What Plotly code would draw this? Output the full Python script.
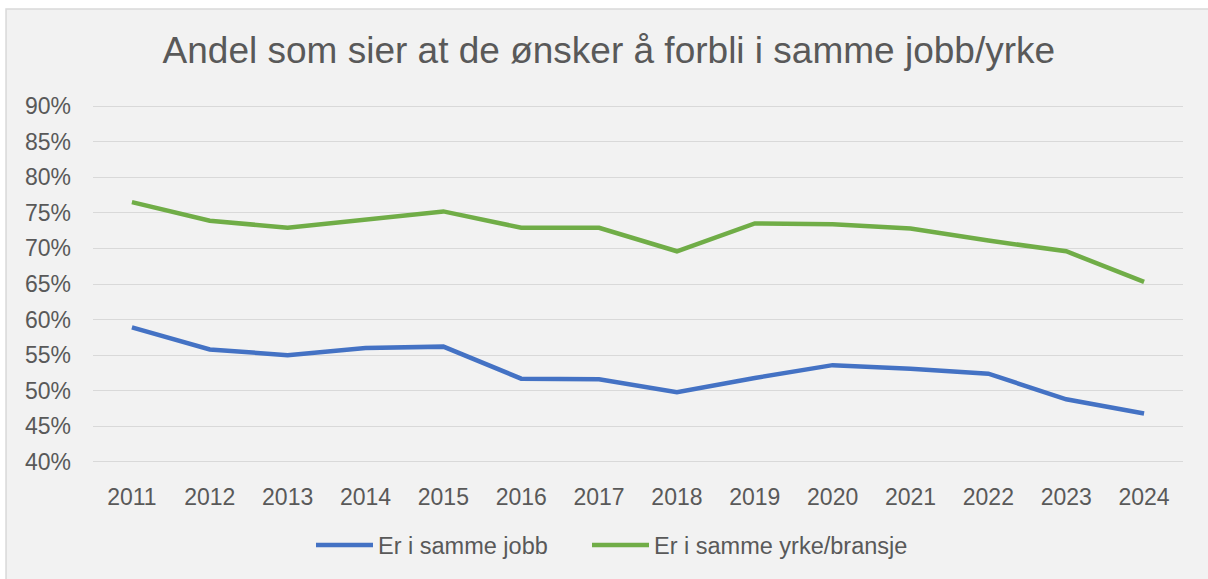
import plotly.graph_objects as go

years = ["2011", "2012", "2013", "2014", "2015", "2016", "2017",
         "2018", "2019", "2020", "2021", "2022", "2023", "2024"]
samme_jobb = [58.9, 55.8, 55.0, 56.0, 56.2, 51.7, 51.6,
              49.8, 51.8, 53.6, 53.1, 52.4, 48.8, 46.8]
samme_yrke = [76.5, 73.9, 72.9, 74.1, 75.2, 72.9, 72.9,
              69.6, 73.5, 73.4, 72.8, 71.1, 69.6, 65.3]
y_ticks = [40, 45, 50, 55, 60, 65, 70, 75, 80, 85, 90]

txt = "#595959"
font = "Liberation Sans, Arial, sans-serif"

fig = go.Figure()
fig.add_trace(go.Scatter(x=years, y=[v / 100 for v in samme_jobb], mode="lines",
                         name="Er i samme jobb", legend="legend",
                         line=dict(color="#4472c4", width=4.5)))
fig.add_trace(go.Scatter(x=years, y=[v / 100 for v in samme_yrke], mode="lines",
                         name="Er i samme yrke/bransje", legend="legend2",
                         line=dict(color="#70ad47", width=4.5)))

fig.add_shape(type="rect", xref="paper", yref="paper",
              x0=-0.0798, x1=1.1, y0=-0.5, y1=1.268,
              fillcolor="#f2f2f2", line=dict(color="#d9d9d9", width=1.5),
              layer="below")

leg_common = dict(orientation="h", y=-0.23, yanchor="middle", xanchor="left",
                  bgcolor="rgba(0,0,0,0)", font=dict(size=23.5, color=txt),
                  itemwidth=57)

fig.update_layout(
    width=1208, height=579,
    margin=dict(l=93, r=25, t=105, b=110),
    paper_bgcolor="white",
    plot_bgcolor="rgba(0,0,0,0)",
    font=dict(family=font, color=txt, size=23),
    title=dict(text="Andel som sier at de ønsker å forbli i samme jobb/yrke",
               x=0.504, xanchor="center", y=1 - 50 / 579, yanchor="middle",
               font=dict(size=37, color=txt, family=font)),
    xaxis=dict(type="category", range=[-0.5, 13.5], showgrid=False,
               showline=False, zeroline=False, ticks="",
               tickfont=dict(size=23, color=txt), ticklabelstandoff=18),
    yaxis=dict(range=[0.3985, 0.9015], tickvals=[v / 100 for v in y_ticks],
               ticktext=[f"{v}%" for v in y_ticks],
               showgrid=True, gridcolor="#d9d9d9", gridwidth=1.3,
               zeroline=False, showline=False, ticks="",
               tickfont=dict(size=23, color=txt), ticklabelstandoff=21),
    legend=dict(x=(311 - 93) / 1090, **leg_common),
    legend2=dict(x=(587 - 93) / 1090, **leg_common),
    showlegend=True,
)

fig.write_html("out.html", config={"displayModeBar": False},
               post_script="document.body.style.margin='0';document.body.style.overflow='hidden';")
